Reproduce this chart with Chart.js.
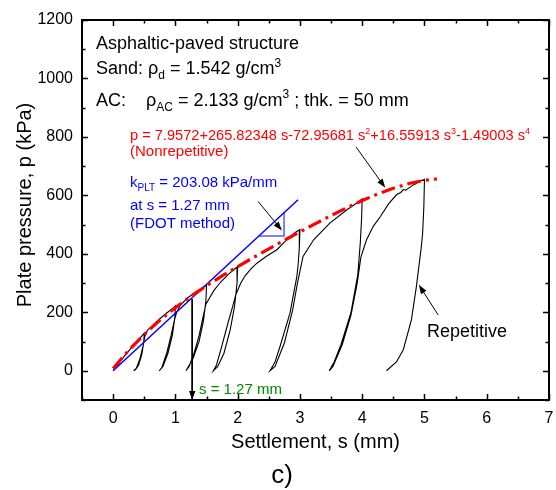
<!DOCTYPE html>
<html>
<head>
<meta charset="utf-8">
<script src="https://cdn.jsdelivr.net/npm/chart.js@4/dist/chart.umd.min.js"></script>
<style>
  html, body { margin: 0; padding: 0; background: #fff; }
  #wrap { width: 556px; height: 490px; }
</style>
</head>
<body>
<div id="wrap"><canvas id="myChart" width="556" height="490"></canvas></div>
<script>
// ---- data ----
// fitted curve (Nonrepetitive), settlement s (mm) / pressure p (kPa)
const sFit = [0, 0.25, 0.5, 0.75, 1, 1.25, 1.5, 1.75, 2, 2.25, 2.5, 2.75, 3, 3.25, 3.5, 3.75, 4, 4.25, 4.5, 4.75, 5, 5.2]
const pFit = [8.0, 70.1, 124.6, 172.8, 215.9, 254.9, 290.9, 324.5, 356.4, 387.2, 417.1, 446.4, 475.2, 503.5, 531.0, 557.4, 582.3, 605.0, 624.7, 640.6, 651.8, 656.3]

// repetitive load test trace
const sRep = [0, 0.1, 0.2, 0.3, 0.4, 0.5,
  0.49, 0.46, 0.41, 0.36, 0.33,
  0.37, 0.43, 0.48, 0.51, 0.55,
  0.65, 0.75, 0.85, 0.95, 1.0,
  0.99, 0.95, 0.88, 0.8, 0.74,
  0.78, 0.86, 0.93, 0.98, 1.02, 1.08,
  1.2, 1.3, 1.4, 1.47, 1.5,
  1.49, 1.45, 1.38, 1.28, 1.17,
  1.22, 1.3, 1.38, 1.44, 1.49,
  1.55, 1.62, 1.72, 1.85, 1.95, 2.0,
  1.99, 1.95, 1.88, 1.78, 1.68, 1.61,
  1.66, 1.74, 1.84, 1.92, 1.97, 2.05, 2.12, 2.22, 2.31, 2.45, 2.63, 2.75, 2.84, 2.93, 3.0,
  2.99, 2.97, 2.95, 2.84, 2.68, 2.6, 2.52,
  2.6, 2.75, 2.88, 2.96, 3.05, 3.22, 3.48, 3.75, 3.9, 4.0,
  3.99, 3.97, 3.93, 3.82, 3.66, 3.55, 3.47,
  3.53, 3.68, 3.82, 3.92, 3.98, 4.07, 4.18, 4.29, 4.42, 4.55, 4.62, 4.66, 4.7, 4.82, 4.86, 4.9, 5.0,
  4.99, 4.97, 4.95, 4.87, 4.79, 4.66, 4.55, 4.39]
const pRep = [0, 28, 55, 80, 105, 128,
  95, 55, 20, 4, 0,
  8, 40, 85, 118, 138,
  158, 178, 196, 212, 222,
  180, 120, 60, 15, 0,
  10, 60, 120, 170, 200, 225,
  250, 265, 278, 288, 294,
  240, 170, 100, 40, 0,
  15, 60, 120, 180, 228,
  250, 275, 302, 330, 348, 356,
  300, 220, 140, 60, 15, 0,
  20, 80, 160, 220, 260, 300, 325, 350, 368, 390, 414, 440, 459, 474, 483,
  420, 360, 322, 197, 83, 30, 0,
  15, 95, 205, 300, 391, 448, 505, 550, 572, 588,
  520, 440, 330, 200, 90, 30, 0,
  15, 90, 190, 300, 390, 448, 495, 527, 570, 602, 610, 620, 618, 636, 640, 646, 655,
  560, 470, 425, 288, 174, 72, 30, 0]

// FDOT tangent line and its slope triangle
const sTan = [0, 2.97]
const pTan = [0, 585]
const sTri = [2.34, 2.745, 2.745]
const pTri = [461, 461, 541]

// annotation arrows (tail -> head), data units
const arrowTail = [[3.90, 766], [2.33, 579], [5.22, 191]]
const arrowHead = [[4.37, 626], [2.71, 480], [4.91, 294]]
const sMark = 1.27
const pMarkTop = 245

// axis ticks
const xMin = -0.5, xMax = 7, xStep = 0.5
const yMin = -100, yMax = 1200, yStep = 100

const pts = (xs, ys) => xs.map((x, i) => ({x: x, y: ys[i]}))

const FONT = '"Liberation Sans", Arial, Helvetica, sans-serif'
Chart.defaults.font.family = FONT
Chart.defaults.color = '#000'

// text lines: [s, p, size, colour, runs]; runs are [text, 'sub'|'sup'|'']
const notes = [
  [-0.275, 1101, 18, '#000', [['Asphaltic-paved structure', '']]],
  [-0.275, 1015, 18, '#000', [['Sand: ', ''], ['\u03c1', ''], ['d', 'sub'], [' = 1.542 g/cm', ''], ['3', 'sup']]],
  [-0.275, 906, 18, '#000', [['AC:    ', ''], ['\u03c1', ''], ['AC', 'sub'], [' = 2.133 g/cm', ''], ['3', 'sup'], [' ; thk. = 50 mm', '']]],
  [0.271, 789, 14.6, '#ff0000', [['p = 7.9572+265.82348 s-72.95681 s', ''], ['2', 'sup'], ['+16.55913 s', ''], ['3', 'sup'], ['-1.49003 s', ''], ['4', 'sup']]],
  [0.271, 735, 15, '#ff0000', [['(Nonrepetitive)', '']]],
  [0.271, 629, 15, '#0000ff', [['k', ''], ['PLT', 'sub'], [' = 203.08 kPa/mm', '']]],
  [0.271, 550, 15, '#0000ff', [['at s = 1.27 mm', '']]],
  [0.271, 488, 15, '#0000ff', [['(FDOT method)', '']]],
  [5.04, 115, 18, '#000', [['Repetitive', '']]],
  [1.379, -78, 15, '#008a00', [['s = 1.27 mm', '']]]
]

function drawRuns(ctx, x, y, runs, size) {
  let cx = x
  runs.forEach(([t, m]) => {
    const fs = m ? Math.round(size * 0.64) : size
    ctx.font = fs + 'px ' + FONT
    const dy = m === 'sub' ? size * 0.3 : (m === 'sup' ? -size * 0.42 : 0)
    ctx.fillText(t, cx, y + dy)
    cx += ctx.measureText(t).width
  })
}

function arrow(ctx, x1, y1, x2, y2) {
  const ang = Math.atan2(y2 - y1, x2 - x1)
  const L = 9, W = 3.2
  ctx.beginPath()
  ctx.moveTo(x1, y1)
  ctx.lineTo(x2 - Math.cos(ang) * L * 0.8, y2 - Math.sin(ang) * L * 0.8)
  ctx.stroke()
  ctx.beginPath()
  ctx.moveTo(x2, y2)
  ctx.lineTo(x2 - Math.cos(ang) * L + Math.sin(ang) * W, y2 - Math.sin(ang) * L - Math.cos(ang) * W)
  ctx.lineTo(x2 - Math.cos(ang) * L - Math.sin(ang) * W, y2 - Math.sin(ang) * L + Math.cos(ang) * W)
  ctx.closePath()
  ctx.fill()
}

const decor = {
  id: 'decor',
  afterDraw(chart) {
    const ctx = chart.ctx, a = chart.chartArea
    const xs = chart.scales.x, ys = chart.scales.y
    ctx.save()
    ctx.strokeStyle = '#000'
    ctx.fillStyle = '#000'

    // inward ticks on all four sides
    ctx.lineWidth = 1.5
    xs.ticks.forEach(t => {
      const px = Math.round(xs.getPixelForValue(t.value)) + 0.5
      const len = Number.isInteger(t.value) ? 6 : 3.5
      ctx.beginPath()
      ctx.moveTo(px, a.bottom); ctx.lineTo(px, a.bottom - len)
      ctx.moveTo(px, a.top); ctx.lineTo(px, a.top + len)
      ctx.stroke()
    })
    ys.ticks.forEach(t => {
      const py = Math.round(ys.getPixelForValue(t.value)) + 0.5
      const len = t.value % 200 === 0 ? 6 : 3.5
      ctx.beginPath()
      ctx.moveTo(a.left, py); ctx.lineTo(a.left + len, py)
      ctx.moveTo(a.right, py); ctx.lineTo(a.right - len, py)
      ctx.stroke()
    })
    // frame
    ctx.lineWidth = 2
    ctx.strokeRect(a.left, a.top, a.right - a.left, a.bottom - a.top)

    // arrows
    ctx.lineWidth = 1
    arrowTail.forEach((t, i) => {
      const h = arrowHead[i]
      arrow(ctx, xs.getPixelForValue(t[0]), ys.getPixelForValue(t[1]),
        xs.getPixelForValue(h[0]), ys.getPixelForValue(h[1]))
    })
    arrow(ctx, xs.getPixelForValue(sMark), ys.getPixelForValue(pMarkTop),
      xs.getPixelForValue(sMark), ys.getPixelForValue(yMin))

    // notes
    ctx.textBaseline = 'alphabetic'
    ctx.textAlign = 'left'
    notes.forEach(([s, p, size, col, runs]) => {
      ctx.fillStyle = col
      drawRuns(ctx, xs.getPixelForValue(s), ys.getPixelForValue(p), runs, size)
    })

    // axis titles and panel label
    ctx.fillStyle = '#000'
    ctx.textAlign = 'center'
    ctx.textBaseline = 'middle'
    ctx.font = '20px ' + FONT
    ctx.fillText('Settlement, s (mm)', (a.left + a.right) / 2, 442)
    ctx.save()
    ctx.translate(25, 205)
    ctx.rotate(-Math.PI / 2)
    ctx.fillText('Plate pressure, p (kPa)', 0, 0)
    ctx.restore()
    ctx.font = '26px ' + FONT
    ctx.fillText('c)', 282, 476)
    ctx.restore()
  }
}

const ctx = document.getElementById('myChart').getContext('2d')
const chart = new Chart(ctx, {
  type: 'scatter',
  data: {
    datasets: [
      { label: 'Nonrepetitive fit', data: pts(sFit, pFit), showLine: true, borderColor: '#ff0000', borderWidth: 3.2, borderDash: [14, 5, 3, 5], pointRadius: 0, fill: false },
      { label: 'FDOT tangent', data: pts(sTan, pTan), showLine: true, borderColor: '#0000ff', borderWidth: 1.5, pointRadius: 0 },
      { label: 'slope', data: pts(sTri, pTri), showLine: true, borderColor: '#5a5aff', borderWidth: 1.5, pointRadius: 0 },
      { label: 'Repetitive', data: pts(sRep, pRep), showLine: true, borderColor: '#000', borderWidth: 1.1, pointRadius: 0 },
      { label: 's = 1.27 mm', data: pts([sMark, sMark], [pMarkTop, yMin]), showLine: true, borderColor: '#000', borderWidth: 1, pointRadius: 0 }
    ]
  },
  options: {
    responsive: false,
    animation: false,
    events: [],
    layout: { padding: { top: 20, right: 7, left: 0, bottom: 0 } },
    plugins: { legend: { display: false }, tooltip: { enabled: false } },
    scales: {
      x: {
        type: 'linear', min: xMin, max: xMax,
        grid: { display: false, drawTicks: false },
        border: { display: false },
        ticks: {
          stepSize: xStep, autoSkip: false, maxRotation: 0, padding: 9,
          font: { size: 16 }, color: '#000',
          callback: v => Number.isInteger(v) ? String(v) : ''
        },
        afterFit: s => { s.height = 90; s.paddingLeft = 0; s.paddingRight = 0 }
      },
      y: {
        type: 'linear', min: yMin, max: yMax,
        grid: { display: false, drawTicks: false },
        border: { display: false },
        ticks: {
          stepSize: yStep, autoSkip: false, padding: 9,
          font: { size: 16 }, color: '#000',
          callback: v => (v >= 0 && v % 200 === 0) ? String(v) : ''
        },
        afterFit: s => { s.width = 82; s.paddingTop = 0; s.paddingBottom = 0 }
      }
    }
  },
  plugins: [decor]
})
</script>
</body>
</html>
